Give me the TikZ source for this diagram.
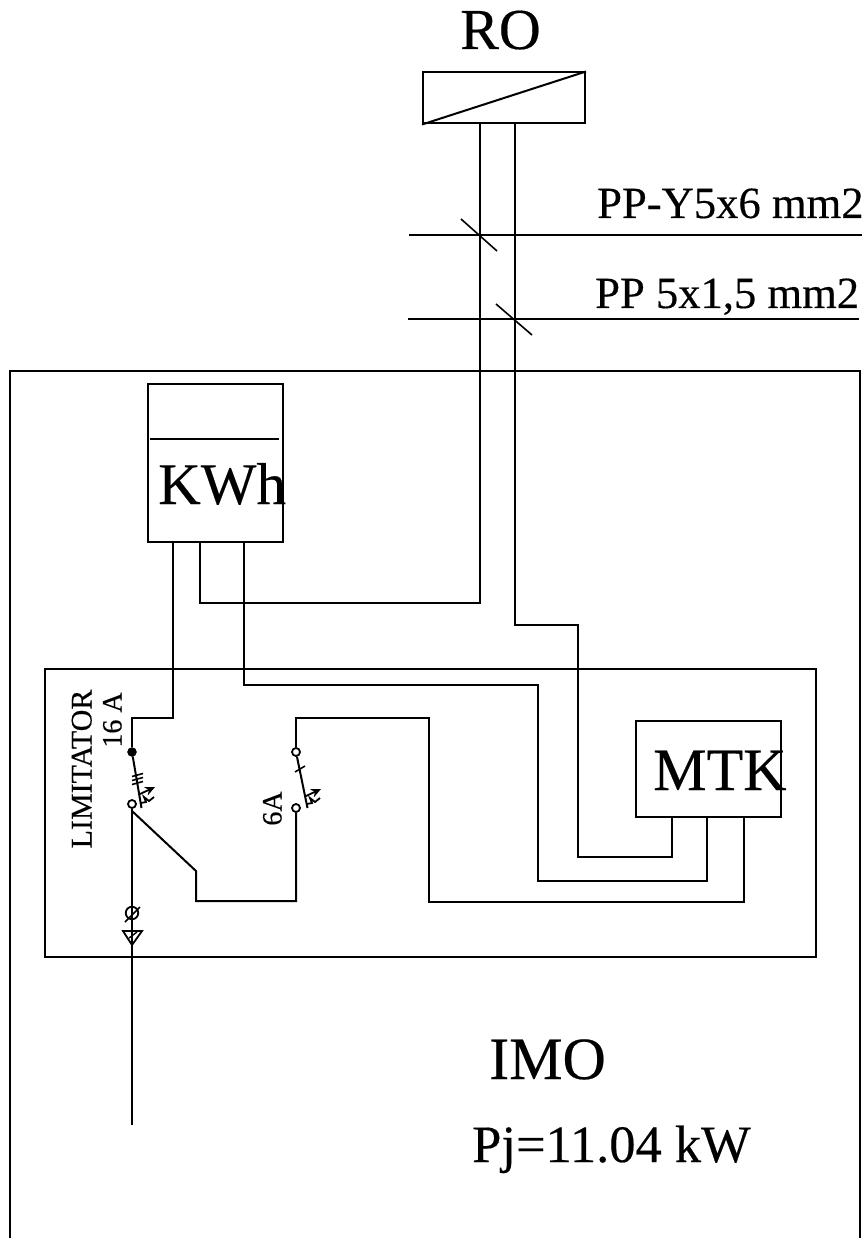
\documentclass[tikz,border=0pt]{standalone}
\usepackage{fontspec}
\setmainfont{Liberation Serif}
\usetikzlibrary{arrows.meta}
\newcommand{\fsz}[1]{\fontsize{#1}{#1}\selectfont\addfontfeatures{FakeBold=0.35}}
\tikzset{
  wire/.style={line width=2pt,line join=miter},
  thin wire/.style={line width=1.6pt},
  boxnode/.style={draw,line width=2pt,inner sep=0pt,anchor=north west,fill=none},
  lbl/.style={inner sep=0pt,anchor=base west},
  contact/.style={circle,draw,line width=1.8pt,fill=white,inner sep=0pt,minimum size=8pt},
  fixedcontact/.style={circle,draw,fill=black,inner sep=0pt,minimum size=9pt},
}
\begin{document}
\begin{tikzpicture}[x=1pt,y=-1pt]
\useasboundingbox (0,0) rectangle (863,1238);
% frames
\coordinate (frameBL) at (10,1238);
\coordinate (frameTL) at (10,371);
\coordinate (frameTR) at (860,371);
\coordinate (frameBR) at (860,1238);
\draw[wire] (frameBL) -- (frameTL) -- (frameTR) -- (frameBR);
\node[boxnode,minimum width=771pt,minimum height=288pt] (lim) at (44,668) {};
\node[boxnode,minimum width=162pt,minimum height=51pt] (ro) at (422,71.5) {};
\draw[wire] (ro.south west) -- (ro.north east);
\node[boxnode,minimum width=135pt,minimum height=158pt] (kwh) at (147,383) {};
\coordinate (kwhL) at (150,439);
\coordinate (kwhR) at (279,439);
\draw[wire] (kwhL) -- (kwhR);
\node[boxnode,minimum width=145pt,minimum height=96pt] (mtk) at (635,720) {};
% labels
\node[lbl] (tRO) at (460,49) {\fsz{58}RO};
\node[lbl] (tPY) at (597,218) {\fsz{44.6}PP-Y5x6 mm2};
\node[lbl] (tPP) at (595,308) {\fsz{44.6}PP 5x1,5 mm2};
\node[lbl] (tK) at (158,504) {\fsz{59}KWh};
\node[lbl] (tM) at (653,790) {\fsz{60}MTK};
\node[lbl] (tI) at (489,1079) {\fsz{60}IMO};
\node[lbl] (tP) at (472,1162) {\fsz{52.5}Pj=11.04 kW};
\node[inner sep=0pt,rotate=90,anchor=base] (tL) at (91.5,769) {\fsz{30}LIMITATOR};
\node[inner sep=0pt,rotate=90,anchor=base] (t16) at (121.5,720) {\fsz{28}16 A};
\node[inner sep=0pt,rotate=90,anchor=base] (t6) at (281.5,808.5) {\fsz{28}6A};
% cable markers
\coordinate (c1a) at (409,235); \coordinate (c1b) at (862,235);
\coordinate (c2a) at (408,319);   \coordinate (c2b) at (859,319);
\draw[thin wire] (c1a) -- (c1b);
\draw[thin wire] (c2a) -- (c2b);
\coordinate (t1a) at (461,219); \coordinate (t1b) at (497,251);
\coordinate (t2a) at (496,304); \coordinate (t2b) at (532,335);
\draw[thin wire] (t1a) -- (t1b);
\draw[thin wire] (t2a) -- (t2b);
% contacts
\node[fixedcontact] (s1a) at (132,752) {};
\node[contact] (s1b) at (132,804) {};
\node[contact] (s2a) at (296,752) {};
\node[contact] (s2b) at (296,808) {};
% wires
\draw[wire] (ro.south -| 480,0) -- (480,603) -| (200,541);
\draw[wire] (ro.south -| 515,0) -- (515,625) -- (578,625) -- (578,857) -- (672,857) -- (672,816);
\draw[wire] (172.5,541) -- (172.5,718) -- (132,718) -- (s1a);
\draw[wire] (243.5,541) -- (243.5,685) -- (538,685) -- (538,881) -- (706.5,881) -- (706.5,816);
\draw[wire] (s2a) -- (296,718) -- (429,718) -- (429,902) -- (743.5,902) -- (743.5,816);
\draw[wire] (s2b) -- (296,901) -- (196,901) -- (196,871) -- (132,811);
\coordinate (feedEnd) at (132,1125);
\draw[thin wire] (s1b) -- (feedEnd);
% switch 1
\coordinate (s1m) at (141.5,808);
\draw[wire] (s1a) -- (s1m);
\foreach \yy in {775,779,783}
  \draw[line width=1.6pt] (132,\yy+1.5) -- (143,\yy-1.5);
\draw[line width=1.8pt,-{Stealth[length=10pt,width=9pt]}] (140,794) -- (155,787);
\draw[line width=1.8pt] (141,803) -- (146,802) -- (144,797) -- (149,801) -- (154,797);
% switch 2
\coordinate (s2m) at (307.5,808);
\draw[wire] (s2a) -- (s2m);
\draw[line width=1.6pt] (295,772) -- (305,766);
\draw[line width=1.8pt,-{Stealth[length=10pt,width=9pt]}] (306,796) -- (321,789);
\draw[line width=1.8pt] (307,804) -- (312,803) -- (310,798) -- (315,802) -- (320,798);
% fuse and terminal symbol
\node[circle,draw,line width=1.8pt,inner sep=0pt,minimum size=12.5pt] (phi) at (132,913) {};
\coordinate (phiA) at (125,922); \coordinate (phiB) at (140,907);
\draw[line width=1.6pt] (phiA) -- (phiB);
\coordinate (triA) at (123,931); \coordinate (triB) at (142,931); \coordinate (triC) at (132,945);
\draw[line width=1.8pt,line join=miter] (triA) -- (triB) -- (triC) -- cycle;
\coordinate (triD) at (137,932); \coordinate (triE) at (129,938);
\draw[line width=1.4pt] (triD) -- (triE);
\end{tikzpicture}
\end{document}
